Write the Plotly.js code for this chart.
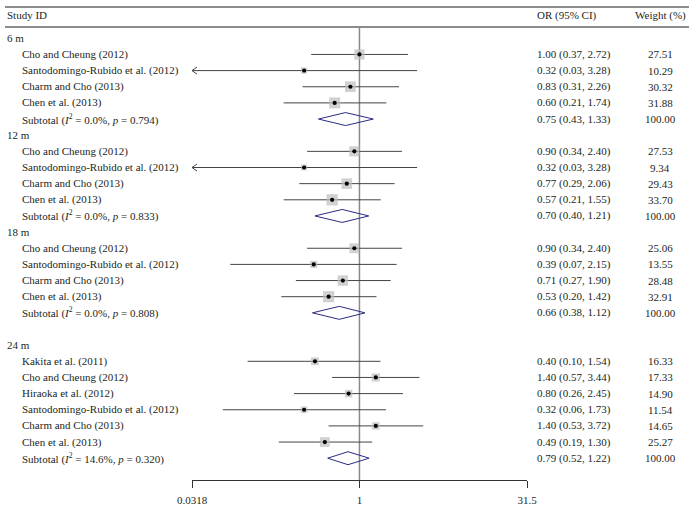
<!DOCTYPE html>
<html>
<head>
<meta charset="utf-8">
<script src="https://cdn.plot.ly/plotly-3.0.1.min.js"></script>
<style>html,body{margin:0;padding:0;background:#fff;}#chart{width:694px;height:519px;}</style>
</head>
<body>
<div id="chart"></div>
<script>
// ---------- DATA ----------
const groups = ["6 m", "12 m", "18 m", "24 m"];
const studies = [
  "Cho and Cheung (2012)", "Santodomingo-Rubido et al. (2012)", "Charm and Cho (2013)", "Chen et al. (2013)",
  "Cho and Cheung (2012)", "Santodomingo-Rubido et al. (2012)", "Charm and Cho (2013)", "Chen et al. (2013)",
  "Cho and Cheung (2012)", "Santodomingo-Rubido et al. (2012)", "Charm and Cho (2013)", "Chen et al. (2013)",
  "Kakita et al. (2011)", "Cho and Cheung (2012)", "Hiraoka et al. (2012)", "Santodomingo-Rubido et al. (2012)", "Charm and Cho (2013)", "Chen et al. (2013)"
];
const studyGroup = [0,0,0,0, 1,1,1,1, 2,2,2,2, 3,3,3,3,3,3];
const orVal  = [1.00,0.32,0.83,0.60, 0.90,0.32,0.77,0.57, 0.90,0.39,0.71,0.53, 0.40,1.40,0.80,0.32,1.40,0.49];
const orLow  = [0.37,0.03,0.31,0.21, 0.34,0.03,0.29,0.21, 0.34,0.07,0.27,0.20, 0.10,0.57,0.26,0.06,0.53,0.19];
const orHigh = [2.72,3.28,2.26,1.74, 2.40,3.28,2.06,1.55, 2.40,2.15,1.90,1.42, 1.54,3.44,2.45,1.73,3.72,1.30];
const weight = [27.51,10.29,30.32,31.88, 27.53,9.34,29.43,33.70, 25.06,13.55,28.48,32.91, 16.33,17.33,14.90,11.54,14.65,25.27];

const subI2   = ["0.0%", "0.0%", "0.0%", "14.6%"];
const subP    = ["0.794", "0.833", "0.808", "0.320"];
const subOR   = [0.75, 0.70, 0.66, 0.79];
const subLow  = [0.43, 0.40, 0.38, 0.52];
const subHigh = [1.33, 1.21, 1.12, 1.22];
const subWeight = [100.00, 100.00, 100.00, 100.00];

const tickVals = [0.0318, 1, 31.5];
const tickText = ["0.0318", "1", "31.5"];
const nullValue = 1;

// ---------- LAYOUT HELPERS ----------
const W = 694, H = 519;
const FONT = "Liberation Serif, Times New Roman, serif";
const TXT = "#231f20";
const rowTop = 38.3, rowStep = 16.15;
const xMin = tickVals[0], xMax = tickVals[tickVals.length - 1];
const pxPerDecade = (527 - 192) / (Math.log10(xMax) - Math.log10(xMin));

// build row list
const rows = [];
groups.forEach((g, gi) => {
  if (gi === 3) rows.push({type: "blank"});
  rows.push({type: "header", g: gi});
  studyGroup.forEach((sg, si) => { if (sg === gi) rows.push({type: "study", i: si}); });
  rows.push({type: "sub", g: gi});
});
rows.forEach((r, k) => { r.y = rowTop + rowStep * k; });

const annotations = [];
function ann(text, xpx, y, anchor, yref) {
  annotations.push({
    text: text, x: xpx / W, xref: "paper", xanchor: anchor,
    y: y, yref: yref || "y", yanchor: "middle", showarrow: false,
    font: {family: FONT, size: 11, color: TXT}, borderpad: 0
  });
}
ann("Study ID", 6, 1 - 15 / H, "left", "paper");
ann("OR (95% CI)", 536, 1 - 15 / H, "left", "paper");
ann("Weight (%)", 660, 1 - 15 / H, "center", "paper");

const fmt = (o, l, h) => o.toFixed(2) + " (" + l.toFixed(2) + ", " + h.toFixed(2) + ")";

// traces data
const ciX = [], ciY = [], arrX = [], arrY = [];
const sqX = [], sqY = [], sqS = [], dX = [], dY = [];
const diaX = [], diaY = [];
const armFactor = Math.pow(10, 5 / pxPerDecade);

rows.forEach(r => {
  if (r.type === "header") {
    ann(groups[r.g], 6, r.y, "left");
  } else if (r.type === "study") {
    const i = r.i;
    ann(studies[i], 21, r.y, "left");
    ann(fmt(orVal[i], orLow[i], orHigh[i]), 536, r.y, "left");
    ann(weight[i].toFixed(2), 660, r.y, "center");
    const lo = Math.max(orLow[i], xMin);
    ciX.push(lo, orHigh[i], null); ciY.push(r.y, r.y, null);
    if (orLow[i] < xMin) {
      arrX.push(xMin * armFactor, xMin, xMin * armFactor, null);
      arrY.push(r.y - 3.5, r.y, r.y + 3.5, null);
    }
    sqX.push(orVal[i]); sqY.push(r.y); sqS.push(1.95 * Math.sqrt(weight[i]));
    dX.push(orVal[i]); dY.push(r.y);
  } else if (r.type === "sub") {
    const g = r.g;
    ann("Subtotal (<i>I</i><sup>2</sup> = " + subI2[g] + ", <i>p</i> = " + subP[g] + ")", 21, r.y, "left");
    ann(fmt(subOR[g], subLow[g], subHigh[g]), 536, r.y, "left");
    ann(subWeight[g].toFixed(2), 660, r.y, "center");
    diaX.push(subLow[g], subOR[g], subHigh[g], subOR[g], subLow[g], null);
    diaY.push(r.y, r.y - 6.5, r.y, r.y + 6.5, r.y, null);
  }
});

const traces = [
  {x: [nullValue, nullValue], y: [27, 480], mode: "lines", line: {color: "#8a8a8a", width: 1.5}, hoverinfo: "skip"},
  {x: ciX, y: ciY, mode: "lines", line: {color: "#444", width: 1}, hoverinfo: "skip", connectgaps: false},
  {x: arrX, y: arrY, mode: "lines", line: {color: "#444", width: 1}, hoverinfo: "skip", connectgaps: false},
  {x: sqX, y: sqY, mode: "markers", marker: {symbol: "square", size: sqS, color: "#bdbdbd", line: {width: 0}}, hoverinfo: "skip", cliponaxis: false},
  {x: dX, y: dY, mode: "markers", marker: {symbol: "circle", size: 4.2, color: "#000", line: {width: 0}}, hoverinfo: "skip", cliponaxis: false},
  {x: diaX, y: diaY, mode: "lines", line: {color: "#2b2b85", width: 1}, hoverinfo: "skip", connectgaps: false}
];

const layout = {
  width: W, height: H,
  margin: {l: 0, r: 0, t: 0, b: 0},
  paper_bgcolor: "#fff", plot_bgcolor: "rgba(0,0,0,0)",
  showlegend: false,
  xaxis: {
    type: "log", domain: [192 / W, 527 / W],
    range: [Math.log10(xMin), Math.log10(xMax)],
    showline: true, linecolor: "#333", linewidth: 1, mirror: false,
    ticks: "outside", ticklen: 7, tickwidth: 1, tickcolor: "#333",
    ticklabelstandoff: 3,
    tickvals: tickVals, ticktext: tickText,
    tickfont: {family: FONT, size: 11, color: TXT},
    showgrid: false, zeroline: false, fixedrange: true
  },
  yaxis: {
    domain: [(H - 480) / H, (H - 27) / H],
    range: [480, 27], visible: false, showgrid: false, zeroline: false, fixedrange: true
  },
  shapes: [
    {type: "line", xref: "paper", yref: "paper", x0: 5 / W, x1: 689 / W, y0: 1 - 7 / H, y1: 1 - 7 / H, line: {color: "#8c8c8c", width: 2}},
    {type: "line", xref: "paper", yref: "paper", x0: 5 / W, x1: 689 / W, y0: 1 - 27 / H, y1: 1 - 27 / H, line: {color: "#8c8c8c", width: 2}}
  ],
  annotations: annotations
};

Plotly.newPlot("chart", traces, layout, {displayModeBar: false, staticPlot: true});
</script>
</body>
</html>
